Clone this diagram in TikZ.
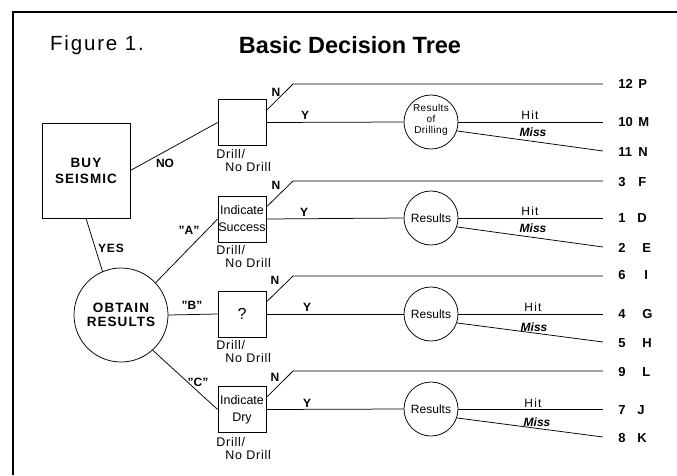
\documentclass[tikz,border=0pt]{standalone}
\usepackage{fontspec}
\setmainfont{Liberation Sans}
\begin{document}
\begin{tikzpicture}[x=1pt,y=-1pt, line width=0.75pt,
  dbox/.style={draw, minimum width=48pt, minimum height=46pt, inner sep=0pt, align=center, font=\fontsize{12.5}{17}\selectfont},
  rcirc/.style={draw, circle, minimum size=54pt, inner sep=0pt, align=center, font=\fontsize{12}{12}\selectfont},
  lbl/.style={inner sep=0pt, font=\fontsize{12}{12}\selectfont\bfseries},
  dlbl/.style={inner sep=0pt, anchor=west, font=\fontsize{12.5}{12}\selectfont\addfontfeature{LetterSpace=6}},
  outn/.style={inner sep=0pt, anchor=west, font=\fontsize{13}{13}\selectfont\bfseries},
  hit/.style={inner sep=0pt, font=\fontsize{12}{12}\selectfont\addfontfeature{LetterSpace=10}},
  miss/.style={inner sep=0pt, font=\fontsize{12}{12}\selectfont\bfseries\itshape},
  frame/.style={line width=2.6pt}]
\useasboundingbox (0,0) rectangle (677,475);

% frame
\coordinate (fa) at (677,12);
\coordinate (fb) at (12,12);
\coordinate (fc) at (13,475);
\draw[frame] (fa) -- (fb);
\draw[frame] (13,11) -- (fc);

% titles
\node[inner sep=0pt, font=\fontsize{20.5}{22}\selectfont\addfontfeature{LetterSpace=9}] (fig) at (97,45) {Figure 1.};
\node[inner sep=0pt, font=\fontsize{23.5}{25}\selectfont\bfseries] (title) at (350,45) {Basic Decision Tree};

% main nodes
\node[draw, minimum width=88pt, minimum height=95pt, inner sep=0pt, align=center,
      font=\fontsize{13.5}{16}\selectfont\bfseries\addfontfeature{LetterSpace=8}] (buy) at (86,170.5) {BUY\\SEISMIC};
\node[draw, circle, minimum size=94pt, inner sep=0pt, align=center,
      font=\fontsize{13.5}{14.5}\selectfont\bfseries\addfontfeature{LetterSpace=8}] (or) at (121,315) {OBTAIN\\RESULTS};

\node[dbox] (d1) at (242,122.5) {};
\node[dbox] (d2) at (242,219) {Indicate\\Success};
\node[dbox, font=\fontsize{16}{16}\selectfont] (d3) at (242,314) {?};
\node[dbox] (d4) at (242,409.5) {Indicate\\Dry};

\foreach \i/\y in {1/154,2/250,3/345,4/442}{
  \node[dlbl] (dl\i) at (216,\y) {Drill/};
  \node[dlbl] (nd\i) at (225,\y+13) {No Drill};
}

\node[rcirc] (c1) at (431,122) {};
\node[inner sep=0pt, align=center, font=\fontsize{10}{11}\selectfont\addfontfeature{LetterSpace=4}] (c1t) at (431,119.5) {Results\\of\\Drilling};
\node[rcirc] (c2) at (431,218) {Results};
\node[rcirc] (c3) at (431,314) {Results};
\node[rcirc] (c4) at (431,409) {Results};

% first-level connectors
\draw (buy.east) -- (d1.west);
\draw (buy.south) -- (or.113);
\draw (or.43) -- (d2.west);
\draw (or.east) -- (d3.west);
\draw (or.-48) -- (d4.west);

\node[lbl] (lno) at (165,163) {NO};
\node[lbl, font=\fontsize{12}{12}\selectfont\bfseries\addfontfeature{LetterSpace=8}] (lyes) at (111,248) {YES};
\node[lbl] (la) at (189,230) {"A"};
\node[lbl] (lb) at (192,305) {"B"};
\node[lbl] (lc) at (198,382) {"C"};

% N and Y branches
\foreach \i/\yn/\yy in {1/84/122,2/181/218,3/276/314,4/371/409}{
  \coordinate (k\i) at (293,\yn);
  \coordinate (en\i) at (603,\yn);
  \draw ([yshift=12pt]d\i.east) -- (k\i) -- (en\i);
  \draw (d\i.east) -- (c\i.west);
}
\node[lbl] (n1) at (276,92) {N};
\node[lbl] (n2) at (276,185) {N};
\node[lbl] (n3) at (275,280) {N};
\node[lbl] (n4) at (275,377) {N};
\node[lbl] (y1) at (305,115) {Y};
\node[lbl] (y2) at (304,212) {Y};
\node[lbl] (y3) at (307,307) {Y};
\node[lbl] (y4) at (307,403) {Y};

% Hit and Miss
\foreach \i/\yh/\ym in {1/122/151,2/218/247,3/314/342,4/409/437}{
  \coordinate (eh\i) at (603,\yh);
  \coordinate (em\i) at (603,\ym);
  \draw (c\i.east) -- (eh\i);
  \draw (c\i.-19) -- (em\i);
}
\node[hit] (h1) at (530,115) {Hit};
\node[hit] (h2) at (530,211) {Hit};
\node[hit] (h3) at (533,307) {Hit};
\node[hit] (h4) at (533,403) {Hit};
\node[miss] (m1) at (533,132) {Miss};
\node[miss] (m2) at (533,228) {Miss};
\node[miss] (m3) at (534,327) {Miss};
\node[miss] (m4) at (537,422) {Miss};

% outcomes
\foreach \n/\l/\y/\xl in {12/P/84/638,10/M/122/638,11/N/152/638,3/F/182/638,1/D/218/637,2/E/248/642,6/I/275/644,4/G/314/642,5/H/343/642,9/L/372/642,7/J/410/637,8/K/438/637}{
  \node[outn] (on\n) at (618,\y) {\n};
  \node[outn] (ol\n) at (\xl,\y) {\l};
}
\end{tikzpicture}
\end{document}
